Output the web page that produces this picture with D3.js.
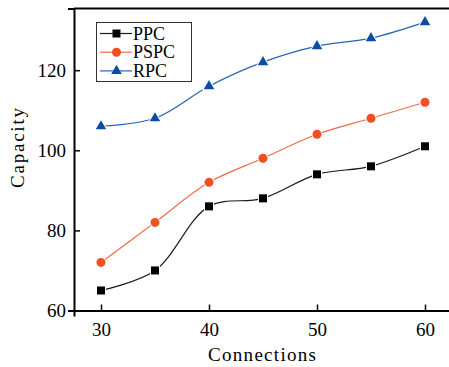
<!DOCTYPE html>
<html><head><meta charset="utf-8">
<script src="https://cdn.jsdelivr.net/npm/d3@7"></script>
<style>body{margin:0;background:#fff}text{font-family:"Liberation Serif","Times New Roman",serif;fill:#000}</style>
</head><body><svg id="c" width="449" height="367"></svg>
<script>
const connections = [30, 35, 40, 45, 50, 55, 60];
const ppc  = [65, 70, 86, 88, 94, 96, 101];
const pspc = [72, 82, 92, 98, 104, 108, 112];
const rpc  = [106, 108, 116, 122, 126, 128, 132];
const xTicks = [30, 40, 50, 60];
const yTicks = [60, 80, 100, 120];
const seriesNames = ["PPC", "PSPC", "RPC"];

const svg = d3.select("#c");
const x = d3.scaleLinear().domain([27.5, 62.5]).range([74, 452]);
const y = d3.scaleLinear().domain([60, 135.4]).range([310.5, 8.5]);

const series = [
  {name: seriesNames[0], values: ppc, color: "#000000", line: "#1a1a1a", shape: "square"},
  {name: seriesNames[1], values: pspc, color: "#f04e23", line: "#f26a45", shape: "circle"},
  {name: seriesNames[2], values: rpc, color: "#0a4da3", line: "#2a62b5", shape: "triangle"}
];

svg.append("line").attr("x1", 74).attr("x2", 449).attr("y1", 8.5).attr("y2", 8.5)
  .attr("stroke", "#000").attr("stroke-width", 2);

const xAxis = svg.append("g").attr("transform", "translate(0,310.5)")
  .call(d3.axisBottom(x).tickValues(xTicks).tickSize(6).tickPadding(6).tickFormat(d3.format("d")));
const yAxis = svg.append("g").attr("transform", "translate(74,0)")
  .call(d3.axisLeft(y).tickValues(yTicks).tickSize(6).tickPadding(2).tickFormat(d3.format("d")));
[xAxis, yAxis].forEach(a => {
  a.attr("font-family", null).attr("font-size", null);
  a.select(".domain").attr("stroke-width", 2);
  a.selectAll(".tick line").attr("stroke-width", 1.5);
  a.selectAll("text").style("font-size", "19px").style("font-family", '"Liberation Serif",serif').attr("fill", "#000");
});
xAxis.selectAll(".tick line").attr("y1", 0).attr("y2", -6);
yAxis.selectAll(".tick line").attr("x2", 6);

svg.append("text").attr("x", 262).attr("y", 361).attr("text-anchor", "middle")
  .style("font-size", "19px").attr("textLength", 108).text("Connections");
svg.append("text").attr("transform", "translate(24,148) rotate(-90)").attr("text-anchor", "middle")
  .style("font-size", "19px").attr("textLength", 80).text("Capacity");

const line = d3.line().x((d, i) => x(connections[i])).y(d => y(d)).curve(d3.curveCatmullRom.alpha(0.5));

function marker(g, shape, color) {
  if (shape === "square") g.append("rect").attr("x", -4).attr("y", -4).attr("width", 8).attr("height", 8);
  else if (shape === "circle") g.append("circle").attr("r", 4.5);
  else g.append("path").attr("d", d3.symbol(d3.symbolTriangle, 48)());
  g.selectAll("*").attr("fill", color).attr("stroke", "#fff").attr("stroke-width", 2).attr("paint-order", "stroke");
}

series.forEach(s => {
  svg.append("path").attr("d", line(s.values)).attr("fill", "none").attr("stroke", s.line).attr("stroke-width", 1.2);
  s.values.forEach((v, i) => {
    const g = svg.append("g").attr("transform", `translate(${x(connections[i])},${y(v)})`);
    marker(g, s.shape, s.color);
  });
});

const lg = svg.append("g");
lg.append("rect").attr("x", 96.5).attr("y", 22.5).attr("width", 95).attr("height", 59)
  .attr("fill", "#fff").attr("stroke", "#333").attr("stroke-width", 1);
series.forEach((s, i) => {
  const cy = 33.5 + i * 18.7;
  lg.append("line").attr("x1", 100).attr("x2", 132).attr("y1", cy).attr("y2", cy)
    .attr("stroke", s.line).attr("stroke-width", 1.2);
  const g = lg.append("g").attr("transform", `translate(116.5,${cy})`);
  marker(g, s.shape, s.color);
  g.selectAll("*").attr("stroke", "none");
  lg.append("text").attr("x", 133).attr("y", cy + 6).style("font-size", "18px").text(s.name);
});
</script></body></html>
